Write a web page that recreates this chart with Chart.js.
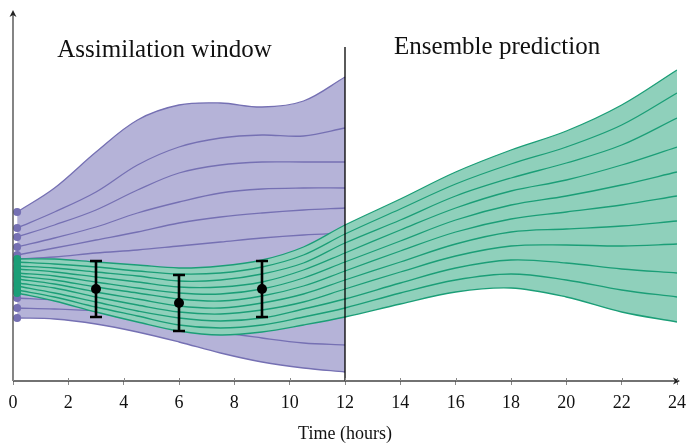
<!DOCTYPE html>
<html>
<head>
<meta charset="utf-8">
<script src="https://cdn.jsdelivr.net/npm/chart.js@4"></script>
<style>
  body { margin: 0; background: #fff; }
  canvas { display: block; }
</style>
</head>
<body>
<canvas id="chart" width="688" height="445"></canvas>
<script>
// x positions (hours)
const assimX = [0.15, 1.5, 3, 4.5, 6, 7.5, 9, 10.5, 12];
const predX = [0.15, 1.5, 3, 4.5, 6, 7.5, 9, 10.5, 12, 14, 16, 18, 20, 22, 24];

// prior ensemble (purple), top to bottom
const prior1 = [16.9, 19.3, 22.9, 26.1, 27.6, 27.8, 27.4, 28.0, 30.4];
const prior2 = [15.3, 16.9, 18.9, 21.6, 23.4, 24.3, 24.6, 24.5, 25.3];
const prior3 = [14.4, 15.6, 17.1, 19.1, 20.8, 21.6, 21.9, 21.9, 21.9];
const prior4 = [13.4, 14.3, 15.4, 16.8, 17.9, 18.8, 19.2, 19.3, 19.3];
const prior5 = [12.6, 13.3, 14.1, 14.9, 15.8, 16.4, 16.8, 17.1, 17.3];
const prior6 = [12.2, 12.4, 12.8, 13.1, 13.5, 13.9, 14.3, 14.6, 14.8];
const prior7 = [8.3, 8.1, 7.8, 7.5, 7.3, 7.2, 7.3, 7.5, 7.7];
const prior8 = [7.3, 7.2, 7.0, 6.6, 5.8, 4.9, 4.3, 3.8, 3.6];
const prior9 = [6.3, 6.2, 5.7, 4.9, 3.9, 2.8, 1.9, 1.3, 0.9];

// analysis / prediction ensemble (green), top to bottom
const post1 = [12.2, 12.2, 11.9, 11.6, 11.3, 11.5, 12.1, 13.4, 15.6, 18.2, 20.9, 23.1, 25.0, 27.6, 31.1];
const post2 = [11.9, 11.7, 11.4, 11.0, 10.7, 10.8, 11.4, 12.6, 14.7, 17.2, 19.7, 21.7, 23.4, 25.6, 28.8];
const post3 = [11.5, 11.3, 10.9, 10.5, 10.0, 10.1, 10.7, 11.8, 13.8, 16.1, 18.5, 20.3, 21.8, 23.6, 26.3];
const post4 = [11.2, 10.9, 10.4, 9.9, 9.4, 9.4, 9.9, 11.1, 12.8, 15.1, 17.3, 19.0, 20.1, 21.6, 23.4];
const post5 = [10.8, 10.5, 9.9, 9.3, 8.8, 8.7, 9.2, 10.3, 11.9, 14.0, 16.1, 17.6, 18.5, 19.6, 20.9];
const post6 = [10.5, 10.1, 9.4, 8.8, 8.2, 8.0, 8.5, 9.5, 11.0, 13.0, 14.9, 16.2, 16.9, 17.6, 18.5];
const post7 = [10.2, 9.7, 8.9, 8.2, 7.5, 7.3, 7.8, 8.7, 10.1, 11.9, 13.7, 14.9, 15.2, 15.5, 16.0];
const post8 = [9.8, 9.3, 8.4, 7.6, 6.9, 6.7, 7.1, 7.9, 9.2, 10.9, 12.5, 13.5, 13.6, 13.5, 13.7];
const post9 = [9.5, 8.8, 7.9, 7.0, 6.3, 6.0, 6.3, 7.2, 8.2, 9.8, 11.3, 12.1, 11.8, 11.2, 10.8];
const post10 = [9.1, 8.4, 7.4, 6.5, 5.6, 5.3, 5.6, 6.4, 7.3, 8.8, 10.1, 10.7, 10.1, 9.1, 8.4];
const post11 = [8.8, 8.0, 6.9, 5.9, 5.0, 4.6, 4.9, 5.6, 6.4, 7.7, 8.9, 9.3, 8.4, 6.9, 5.9];

// observations with error bars
const obsX = [3, 6, 9];
const obsY = [9.2, 7.8, 9.2];
const obsErr = [2.8, 2.8, 2.8];

const windowEnd = 12;
const windowTop = 33.4;

const purple = "#7570b3";
const purpleFill = "#b5b3d8";
const green = "#1b9e77";
const greenFill = "#8fd0bb";
const serif = "'Liberation Serif', 'DejaVu Serif', serif";

const priors = [prior1, prior2, prior3, prior4, prior5, prior6, prior7, prior8, prior9];
const posts = [post1, post2, post3, post4, post5, post6, post7, post8, post9, post10, post11];

const toPoints = (xs, ys) => ys.map((y, i) => ({ x: xs[i], y: y }));
const firstDot = (ctx) => (ctx.dataIndex === 0 ? 4 : 0);

const datasets = [];

priors.forEach((ys, i) => {
  datasets.push({
    label: "prior" + (i + 1),
    data: toPoints(assimX, ys),
    borderColor: purple,
    backgroundColor: i === 0 ? purpleFill : purple,
    pointBackgroundColor: purple,
    pointBorderWidth: 0,
    borderWidth: 1.3,
    pointRadius: firstDot,
    fill: i === 0 ? priors.length - 1 : false,
    order: i === 0 ? 11 : 10,
  });
});

const postStart = datasets.length;
posts.forEach((ys, i) => {
  datasets.push({
    label: "post" + (i + 1),
    data: toPoints(predX, ys),
    borderColor: green,
    backgroundColor: i === 0 ? greenFill : green,
    pointBackgroundColor: green,
    pointBorderWidth: 0,
    borderWidth: 1.3,
    pointRadius: firstDot,
    fill: i === 0 ? postStart + posts.length - 1 : false,
    order: i === 0 ? 6 : 5,
  });
});

const obsIndex = datasets.length;
datasets.push({
  label: "obs",
  data: toPoints(obsX, obsY),
  showLine: false,
  pointRadius: 5,
  pointBorderWidth: 0,
  pointBackgroundColor: "#000",
  borderColor: "#000",
  order: 0,
});

// error bars, axis arrows, window line and labels
const decorations = {
  id: "decorations",
  beforeDatasetDraw(chart, args) {
    if (args.index !== obsIndex) return;
    const { ctx, scales } = chart;
    ctx.save();
    ctx.strokeStyle = "#000";
    ctx.lineWidth = 2.6;
    obsX.forEach((x, i) => {
      const px = scales.x.getPixelForValue(x);
      const top = scales.y.getPixelForValue(obsY[i] + obsErr[i]);
      const bot = scales.y.getPixelForValue(obsY[i] - obsErr[i]);
      ctx.beginPath();
      ctx.moveTo(px, top);
      ctx.lineTo(px, bot);
      ctx.moveTo(px - 6, top);
      ctx.lineTo(px + 6, top);
      ctx.moveTo(px - 6, bot);
      ctx.lineTo(px + 6, bot);
      ctx.stroke();
    });
    ctx.restore();
  },
  afterDatasetsDraw(chart) {
    const { ctx, chartArea, scales } = chart;
    ctx.save();

    // window boundary
    const wx = scales.x.getPixelForValue(windowEnd);
    ctx.strokeStyle = "#000";
    ctx.lineWidth = 1.3;
    ctx.beginPath();
    ctx.moveTo(wx, scales.y.getPixelForValue(windowTop));
    ctx.lineTo(wx, chartArea.bottom);
    ctx.stroke();

    // axes with arrows
    const x0 = chartArea.left;
    const y0 = chartArea.bottom;
    const xEnd = chartArea.right + 3;
    const yEnd = chartArea.top;
    ctx.strokeStyle = "#444";
    ctx.fillStyle = "#222";
    ctx.lineWidth = 1.3;
    ctx.beginPath();
    ctx.moveTo(x0, y0);
    ctx.lineTo(xEnd - 3, y0);
    ctx.moveTo(x0, y0);
    ctx.lineTo(x0, yEnd + 3);
    ctx.stroke();
    ctx.beginPath();
    ctx.moveTo(xEnd, y0);
    ctx.lineTo(xEnd - 7, y0 - 3.5);
    ctx.lineTo(xEnd - 5, y0);
    ctx.lineTo(xEnd - 7, y0 + 3.5);
    ctx.closePath();
    ctx.fill();
    ctx.beginPath();
    ctx.moveTo(x0, yEnd);
    ctx.lineTo(x0 - 3.5, yEnd + 7);
    ctx.lineTo(x0, yEnd + 5);
    ctx.lineTo(x0 + 3.5, yEnd + 7);
    ctx.closePath();
    ctx.fill();

    // tick marks crossing the axis
    ctx.strokeStyle = "#888";
    ctx.lineWidth = 1;
    scales.x.ticks.forEach((t) => {
      const tx = Math.round(scales.x.getPixelForValue(t.value)) + 0.5;
      ctx.beginPath();
      ctx.moveTo(tx, y0 - 3);
      ctx.lineTo(tx, y0);
      ctx.stroke();
    });

    // region labels
    ctx.fillStyle = "#111";
    ctx.font = "25px " + serif;
    ctx.textAlign = "center";
    ctx.textBaseline = "alphabetic";
    ctx.fillText("Assimilation window", scales.x.getPixelForValue(5.48), 57);
    ctx.fillText("Ensemble prediction", scales.x.getPixelForValue(17.5), 53.5);
    ctx.restore();
  },
};

new Chart(document.getElementById("chart"), {
  type: "line",
  data: { datasets: datasets },
  options: {
    responsive: false,
    devicePixelRatio: 1,
    animation: false,
    layout: { padding: { left: 13, right: 11, top: 10, bottom: 0 } },
    elements: { line: { tension: 0.35 } },
    plugins: {
      legend: { display: false },
      tooltip: { enabled: false },
    },
    scales: {
      x: {
        type: "linear",
        min: 0,
        max: 24,
        ticks: {
          stepSize: 2,
          color: "#111",
          padding: 7,
          font: { family: serif, size: 18 },
        },
        grid: { drawOnChartArea: false, tickLength: 4, color: "#888" },
        border: { display: false },
        title: {
          display: true,
          text: "Time (hours)",
          color: "#111",
          font: { family: serif, size: 18 },
          padding: { top: 2, bottom: 0 },
        },
        afterFit: (scale) => {
          scale.height = 64;
          scale.paddingLeft = 0;
          scale.paddingRight = 0;
        },
      },
      y: { display: false, min: 0, max: 37.1 },
    },
  },
  plugins: [decorations],
});
</script>
</body>
</html>
